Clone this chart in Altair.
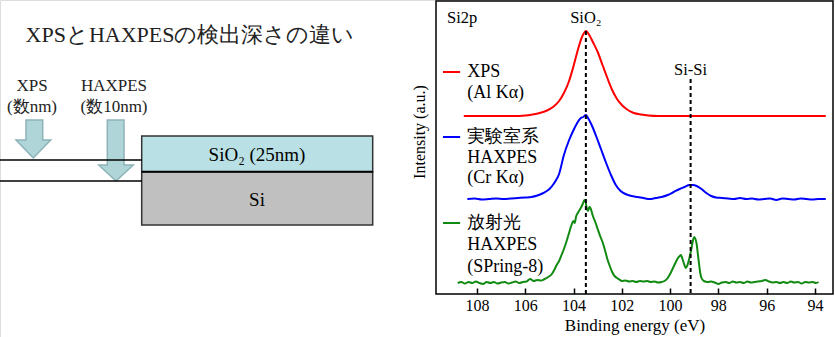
import altair as alt
import pandas as pd

FONT = "Liberation Serif"

# ---------------- spectrum data (binding energy eV, intensity a.u.) ----------------
red_E = [108.55, 107.5, 106.5, 106.0, 105.7, 105.4, 105.1, 104.85, 104.6, 104.4, 104.2, 104.0,
         103.8, 103.65, 103.49, 103.35, 103.2, 103.0, 102.8, 102.6, 102.4, 102.2, 102.0, 101.75,
         101.5, 101.2, 100.9, 100.5, 99.0, 96.0, 93.55]
red_I = [178, 178, 178, 178.5, 179.5, 181, 183.5, 187, 193, 201, 212, 228,
         246, 257, 263, 259, 252, 242, 229, 216, 204, 195, 189, 184,
         181, 179.5, 178.5, 178, 178, 178, 178]

blue_E = [108.40, 108.10, 107.80, 107.50, 107.20, 106.90, 106.60, 106.30, 106.00, 105.75, 105.50,
          105.25, 105.00, 104.80, 104.60, 104.40, 104.20, 104.00, 103.85, 103.70, 103.60, 103.49,
          103.40, 103.25, 103.05, 102.85, 102.65, 102.45, 102.25, 102.05, 101.85, 101.60, 101.35,
          101.10, 100.85, 100.60, 100.35, 100.10, 99.85, 99.60, 99.40, 99.20, 99.05, 98.90, 98.70,
          98.50, 98.30, 98.10, 97.85, 97.60, 97.35, 97.10, 96.85, 96.60, 96.35, 96.10, 95.85, 95.60,
          95.35, 95.10, 94.85, 94.60, 94.35, 94.10, 93.85, 93.55]
blue_I = [95, 95.5, 94.5, 95, 95.5, 95, 95.5, 96, 96.5, 97, 98.5,
          101, 105, 111, 120, 139, 153, 164, 171, 176, 177, 179,
          176, 169, 157, 144, 131, 119, 109, 103, 100, 98, 97,
          96, 95, 96, 97, 99, 102, 105, 107, 109, 109, 108, 105,
          101, 98, 96.5, 96, 95.5, 95, 96, 95, 95.5, 94.5, 95, 95.5, 94,
          95.5, 95, 94.5, 95.5, 95, 94.5, 95, 95]

green_E = [108.80, 108.65, 108.50, 108.35, 108.20, 108.05, 107.90, 107.75, 107.60, 107.45, 107.30,
           107.15, 107.00, 106.85, 106.70, 106.55, 106.40, 106.25, 106.10, 105.95, 105.80, 105.65,
           105.50, 105.35, 105.20, 105.05, 104.90, 104.80, 104.70, 104.60, 104.50, 104.40, 104.30,
           104.20, 104.10, 104.00, 103.95, 103.90, 103.80, 103.70, 103.62, 103.55, 103.50, 103.45,
           103.40, 103.35, 103.30, 103.20, 103.10, 103.00, 102.90, 102.80, 102.70, 102.60, 102.50,
           102.40, 102.30, 102.20, 102.10, 102.00, 101.85, 101.70, 101.55, 101.40, 101.25, 101.10,
           100.95, 100.80, 100.65, 100.50, 100.35, 100.20, 100.10, 100.00, 99.90, 99.80, 99.70,
           99.60, 99.55, 99.50, 99.42, 99.35, 99.28, 99.20, 99.12, 99.05, 99.00, 98.95, 98.90,
           98.85, 98.80, 98.75, 98.70, 98.60, 98.45, 98.30, 98.15, 98.00, 97.85, 97.70, 97.55,
           97.40, 97.25, 97.10, 96.95, 96.80, 96.65, 96.50, 96.35, 96.20, 96.05, 95.90, 95.75,
           95.60, 95.45, 95.30, 95.15, 95.00, 94.85, 94.70, 94.55, 94.40, 94.25, 94.10, 93.95, 93.85]
green_I = [11, 12, 10.5, 12, 11, 12.5, 11, 10, 12, 11, 12,
           10.5, 11.5, 12, 10.5, 11.5, 12.5, 11, 12, 12.5, 15, 13,
           14, 13.5, 15, 17, 20, 24, 29, 33, 39, 45, 52,
           60, 68, 73, 71, 77, 82, 86, 90, 94, 92, 85,
           83, 87, 86, 78, 72, 65, 58, 52, 44, 35, 28,
           22, 18, 16, 14.5, 13, 13.5, 12.5, 13, 12, 13, 12.5,
           13, 12, 12.5, 11.5, 12, 13.5, 16, 20, 25, 30, 35,
           38, 39, 36, 30, 26, 29, 36, 45, 54, 57, 55, 50,
           40, 30, 21, 16, 13, 12, 12.5, 11.5, 10, 11.5, 12, 11,
           12.5, 11.5, 12, 11, 12.5, 11.5, 12, 12.5, 13, 14, 12.5, 11.5,
           12, 11, 12, 11, 12.5, 11.5, 12, 10.5, 12, 11.5, 12, 11, 12]

series_names = ["XPS", "LAB", "SR"]
series_colors = ["#ff0000", "#0000ff", "#108a10"]

tick_values = [108, 106, 104, 102, 100, 98, 96, 94]
x_domain = [93.25, 109.7]
y_domain = [0, 293]

y_title = "Intensity (a.u.)"
y_title_E = 110.36
y_title_I = 162

peak_E = [103.49, 99.15]
peak_top = [263, 215]
peak_names = ["SiO₂", "Si-Si"]
peak_label_I = [276, 224]

corner_label = "Si2p"
corner_E = 109.24
corner_I = 276

legend_line_E1 = 109.41
legend_line_E2 = 108.70
legend_text_E = 108.41
legend_line_I = [222, 157, 71]
legend_texts = ["XPS", "(Al Kα)", "実験室系", "HAXPES", "(Cr Kα)", "放射光", "HAXPES", "(SPring-8)"]
legend_text_I = [222, 201, 157, 136, 116, 71, 49, 27]

# ---------------- diagram data (diagram units) ----------------
W, H = 835, 337
diagram_title = "XPSとHAXPESの検出深さの違い"
diagram_title_xy = (190, 35)
probe_labels = ["XPS", "(数nm)", "HAXPES", "(数10nm)"]
probe_label_x = [32, 32, 114, 114]
probe_label_y = [86, 107, 86, 107]
xps_arrow = [[26, 120], [42.7, 120], [42.7, 140], [50.7, 140], [33.3, 158], [16, 140], [26, 140], [26, 120]]
hax_arrow = [[107.3, 120], [124, 120], [124, 165], [133.3, 165], [116, 181], [98.7, 165], [107.3, 165], [107.3, 120]]
depth_lines_y = [160, 181]
depth_lines_x = [0, 142]
layer_names = ["SiO₂ (25nm)", "Si"]
layer_x = [141.7, 372.7]
layer_y_top = [136, 171.7]
layer_y_bot = [171.7, 225]
layer_fill = ["#b9e0e4", "#c0c0c0"]
layer_label_x = 257
layer_label_y = [155, 200]

# ---------------- spectrum layers ----------------
rows = []
for name, E, I in zip(series_names, [red_E, blue_E, green_E], [red_I, blue_I, green_I]):
    for e, i in zip(E, I):
        rows.append({"E": e, "I": i, "s": name})
spec = pd.DataFrame(rows)

xaxis = alt.Axis(values=tick_values, format="d", orient="bottom", tickSize=6, offset=-49,
                 domain=False, grid=False, labelFontSize=16, labelPadding=3, labelColor="black",
                 tickColor="black", tickWidth=1.5, title="Binding energy (eV)", titleFontSize=17,
                 titleFontWeight="normal", titleColor="black", titlePadding=4,
                 labelFont=FONT, titleFont=FONT)
xs = alt.Scale(domain=x_domain, range=[436, 833], reverse=True, nice=False, zero=False)
ys = alt.Scale(domain=y_domain, range=[294, 1], nice=False, zero=False)


def X(field="E", axis=None):
    return alt.X(f"{field}:Q", scale=xs, axis=axis)


def Y(field="I"):
    return alt.Y(f"{field}:Q", scale=ys, axis=None)


cscale = alt.Scale(domain=series_names, range=series_colors)

frame = pd.DataFrame({"E": [x_domain[0]], "E2": [x_domain[1]], "I": [y_domain[0]], "I2": [y_domain[1]]})
frame_rect = alt.Chart(frame).mark_rect(fillOpacity=0, stroke="black", strokeWidth=1.5).encode(
    x=X(), x2="E2:Q", y=Y(), y2="I2:Q")

lines = alt.Chart(spec).mark_line(strokeWidth=2, interpolate="monotone").encode(
    x=X(axis=xaxis), y=Y(),
    color=alt.Color("s:N", scale=cscale, legend=None),
    detail="s:N",
)

ytl = pd.DataFrame({"E": [y_title_E], "I": [y_title_I], "t": [y_title]})
ytitle = alt.Chart(ytl).mark_text(font=FONT, fontSize=16, color="black", angle=270,
                                  baseline="middle", align="center").encode(x=X(), y=Y(), text="t:N")

peaks = pd.DataFrame({"E": peak_E, "I": peak_top, "I0": [0, 0], "lab": peak_names, "LI": peak_label_I})
dashes = alt.Chart(peaks).mark_rule(color="black", strokeWidth=2, strokeDash=[4, 3]).encode(
    x=X(), y=Y(), y2="I0:Q")
peak_txt = alt.Chart(peaks).mark_text(font=FONT, fontSize=16.5, color="black", baseline="middle").encode(
    x=X(), y=Y("LI"), text="lab:N")

corner = pd.DataFrame({"E": [corner_E], "I": [corner_I], "t": [corner_label]})
corner_txt = alt.Chart(corner).mark_text(font=FONT, fontSize=16.5, color="black", align="left",
                                         baseline="middle").encode(x=X(), y=Y(), text="t:N")

leg_lines = pd.DataFrame({"E": [legend_line_E1] * 3, "E2": [legend_line_E2] * 3,
                          "I": legend_line_I, "s": series_names})
leg_rule = alt.Chart(leg_lines).mark_rule(strokeWidth=2).encode(
    x=X(), x2="E2:Q", y=Y(), color=alt.Color("s:N", scale=cscale, legend=None))
leg_t = pd.DataFrame({"E": [legend_text_E] * len(legend_texts), "I": legend_text_I, "t": legend_texts})
leg_txt = alt.Chart(leg_t).mark_text(font=FONT, fontSize=18, color="black", align="left",
                                     baseline="middle").encode(x=X(), y=Y(), text="t:N")

# ---------------- diagram layers ----------------
px = alt.Scale(domain=[0, W], range=[0, W], nice=False, zero=False)
py = alt.Scale(domain=[0, H], range=[0, H], nice=False, zero=False)


def PX(f):
    return alt.X(f"{f}:Q", scale=px, axis=None)


def PY(f):
    return alt.Y(f"{f}:Q", scale=py, axis=None)


features = []
for poly in [xps_arrow, hax_arrow]:
    features.append({"type": "Feature", "properties": {},
                     "geometry": {"type": "Polygon", "coordinates": [poly]}})

arrows = alt.Chart(alt.Data(values=features)).mark_geoshape(
    fill="#b0d5d9", stroke="#8db3b8", strokeWidth=1.5).project(type="identity", scale=1, translate=[0, 0])

lay = pd.DataFrame({"x": [layer_x[0]] * 2, "x2": [layer_x[1]] * 2, "y": layer_y_top, "y2": layer_y_bot,
                    "n": layer_names, "ly": layer_label_y, "lx": [layer_label_x] * 2})
boxes = alt.Chart(lay).mark_rect(stroke="#333333", strokeWidth=1.5).encode(
    x=PX("x"), x2="x2:Q", y=PY("y"), y2="y2:Q",
    fill=alt.Fill("n:N", scale=alt.Scale(domain=layer_names, range=layer_fill), legend=None))
box_txt = alt.Chart(lay).mark_text(font=FONT, fontSize=19, color="black", baseline="middle").encode(
    x=PX("lx"), y=PY("ly"), text="n:N")

dl = pd.DataFrame({"x": [depth_lines_x[0]] * 2, "x2": [depth_lines_x[1]] * 2, "y": depth_lines_y})
depth = alt.Chart(dl).mark_rule(color="black", strokeWidth=1.5).encode(x=PX("x"), x2="x2:Q", y=PY("y"))

divider = pd.DataFrame({"x": [layer_x[0]], "x2": [layer_x[1]], "y": [layer_y_bot[0]]})
div_rule = alt.Chart(divider).mark_rule(color="black", strokeWidth=2).encode(x=PX("x"), x2="x2:Q", y=PY("y"))

pl = pd.DataFrame({"x": probe_label_x, "y": probe_label_y, "t": probe_labels})
probe_txt = alt.Chart(pl).mark_text(font=FONT, fontSize=17, color="#222222", baseline="middle").encode(
    x=PX("x"), y=PY("y"), text="t:N")

tt = pd.DataFrame({"x": [diagram_title_xy[0]], "y": [diagram_title_xy[1]], "t": [diagram_title]})
title_txt = alt.Chart(tt).mark_text(font=FONT, fontSize=22, color="#222222", baseline="middle").encode(
    x=PX("x"), y=PY("y"), text="t:N")

chart = alt.layer(
    arrows, boxes, div_rule, depth, box_txt, probe_txt, title_txt,
    lines, dashes, frame_rect, ytitle, peak_txt, corner_txt, leg_rule, leg_txt,
).resolve_scale(x="independent", y="independent", color="independent").resolve_axis(
    x="independent", y="independent"
).properties(
    width=W, height=H, padding=0, autosize=alt.AutoSizeParams(type="none")
).configure_view(stroke="transparent", strokeWidth=0).configure(font=FONT)

chart.save("out.html", embed_options={"renderer": "svg", "actions": False})
